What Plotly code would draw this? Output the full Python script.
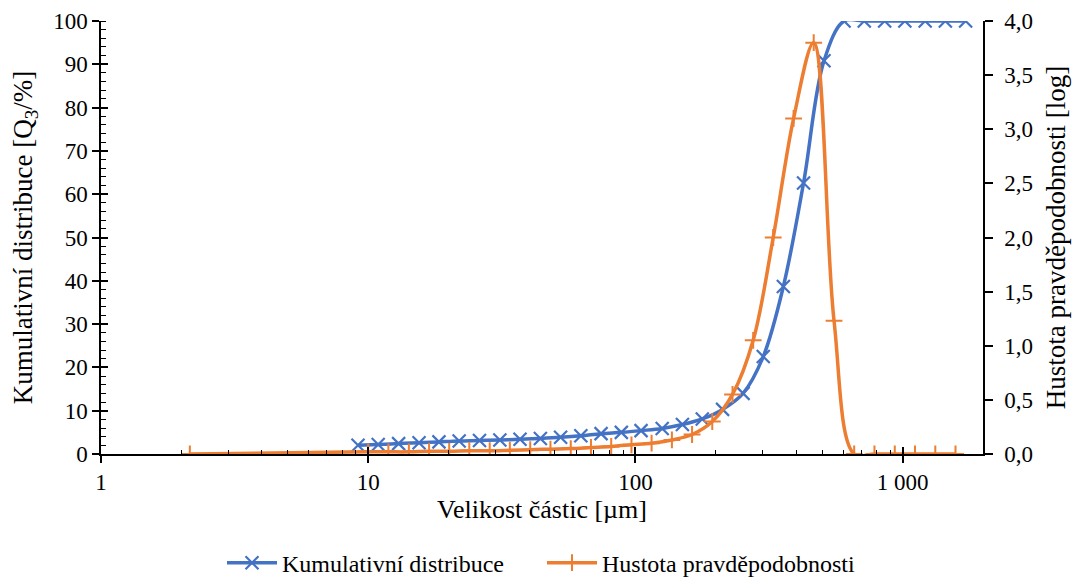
import math
import plotly.graph_objects as go

# ---- data ----
blue_name = "Kumulativní distribuce"
blue_x = [9.16, 10.9, 13.0, 15.5, 18.4, 21.9, 26.1, 31.1, 37.0, 44.1, 52.5, 62.5, 74.4, 88.6,
          105, 126, 150, 178, 212, 253, 301, 358, 426, 508, 604, 719, 857, 1020, 1215, 1446, 1722]
blue_y = [2.0, 2.2, 2.4, 2.6, 2.8, 3.0, 3.1, 3.25, 3.4, 3.6, 3.85, 4.2, 4.7, 5.0, 5.4, 5.9,
          6.8, 8.1, 10.3, 14.0, 22.5, 38.7, 62.6, 90.8, 100, 100, 100, 100, 100, 100, 100]

orange_name = "Hustota pravděpodobnosti"
orange_x = [2.15, 10.0, 11.9, 14.2, 16.9, 20.1, 23.9, 28.5, 33.9, 40.4, 48.1, 57.3, 68.2, 81.2,
            96.7, 115, 137, 163, 194, 231, 276, 328, 391, 465, 554, 659, 785, 935, 1113, 1326, 1578]
orange_y = [0.0, 0.02, 0.02, 0.02, 0.025, 0.025, 0.03, 0.03, 0.035, 0.04, 0.045, 0.05, 0.06, 0.07,
            0.085, 0.10, 0.13, 0.18, 0.30, 0.55, 1.05, 2.0, 3.10, 3.80, 1.23, 0, 0, 0, 0, 0, 0]

x_tickvals = [1, 10, 100, 1000]
x_ticktext = ["1", "10", "100", "1 000"]
y_tickvals = [0, 10, 20, 30, 40, 50, 60, 70, 80, 90, 100]
y2_tickvals = [0, 0.5, 1.0, 1.5, 2.0, 2.5, 3.0, 3.5, 4.0]
y2_ticktext = ["0,0", "0,5", "1,0", "1,5", "2,0", "2,5", "3,0", "3,5", "4,0"]

x_title = "Velikost částic [µm]"
y_title = "Kumulativní distribuce [Q<sub>3</sub>/%]"
y2_title = "Hustota pravděpodobnosti [log]"

BLUE = "#4472C4"
ORANGE = "#ED7D31"
FONT = "Liberation Serif, Times New Roman, DejaVu Serif, serif"
XMAX = 2000

x_range = [0, math.log10(XMAX)]
minor_x = [m * 10 ** d for d in range(0, 4) for m in range(2, 10) if m * 10 ** d <= XMAX]

fig = go.Figure()
fig.add_trace(go.Scatter(
    x=blue_x, y=blue_y, name=blue_name, mode="lines+markers",
    line=dict(color=BLUE, width=3.5, shape="spline", smoothing=1.0),
    marker=dict(symbol="x-thin", size=13, color=BLUE, line=dict(color=BLUE, width=2.2)),
    xaxis="x", yaxis="y",
))
fig.add_trace(go.Scatter(
    x=orange_x, y=orange_y, name=orange_name, mode="lines+markers",
    line=dict(color=ORANGE, width=3.5, shape="spline", smoothing=1.0),
    marker=dict(symbol="cross-thin", size=12, color=ORANGE, line=dict(color=ORANGE, width=2)),
    xaxis="x", yaxis="y2",
))
# invisible helper trace so the overlay axes (inner halves of crossing ticks) get drawn
fig.add_trace(go.Scatter(
    x=blue_x, y=blue_y, mode="markers", marker=dict(opacity=0), showlegend=False,
    hoverinfo="skip", xaxis="x3", yaxis="y3",
))

axis_common = dict(showgrid=False, zeroline=False, linecolor="black", tickcolor="black",
                   tickfont=dict(family=FONT, size=23, color="black"))

# the page body adds an 8px offset, so the figure is 8px smaller and margins shifted
fig.update_layout(
    width=1072, height=571,
    margin=dict(l=93, r=97, t=13, b=125, autoexpand=False),
    paper_bgcolor="white", plot_bgcolor="white",
    font=dict(family=FONT, color="black", size=23),
    xaxis=dict(
        type="log", range=x_range, tickmode="array", tickvals=x_tickvals, ticktext=x_ticktext,
        ticks="outside", ticklen=7, tickwidth=1.5, showline=True, linewidth=1.5,
        minor=dict(ticks="inside", ticklen=4, tickwidth=1.2, tickcolor="black",
                   tickmode="array", tickvals=minor_x, showgrid=False),
        title=dict(text=x_title, font=dict(family=FONT, size=26), standoff=2),
        automargin=False, anchor="y", **axis_common,
    ),
    yaxis=dict(
        range=[0, 100], tickmode="array", tickvals=y_tickvals,
        ticks="outside", ticklen=7, tickwidth=1.5, showline=True, linewidth=1.5,
        minor=dict(ticks="inside", ticklen=5, tickwidth=1.2, tickcolor="black", dtick=2,
                   showgrid=False),
        title=dict(text=y_title, font=dict(family=FONT, size=27), standoff=14),
        automargin=False, anchor="x", **axis_common,
    ),
    yaxis2=dict(
        range=[0, 4], tickmode="array", tickvals=y2_tickvals, ticktext=y2_ticktext,
        overlaying="y", side="right", anchor="x",
        ticks="outside", ticklen=8, tickwidth=1.5, showline=True, linewidth=1.5,
        ticklabelstandoff=7,
        title=dict(text=y2_title, font=dict(family=FONT, size=27), standoff=14),
        automargin=False, **axis_common,
    ),
    xaxis3=dict(
        type="log", range=x_range, tickmode="array", tickvals=x_tickvals,
        overlaying="x", anchor="y3", side="bottom", ticks="inside", ticklen=7, tickwidth=1.5,
        showticklabels=False, showline=False, showgrid=False, zeroline=False, tickcolor="black",
    ),
    yaxis3=dict(
        range=[0, 100], tickmode="array", tickvals=y_tickvals,
        overlaying="y", anchor="x3", side="left", ticks="inside", ticklen=7, tickwidth=1.5,
        showticklabels=False, showline=False, showgrid=False, zeroline=False, tickcolor="black",
    ),
    showlegend=True,
    legend=dict(orientation="h", x=0.5, xanchor="center", y=-0.252, yanchor="middle",
                font=dict(family=FONT, size=24), itemwidth=50, entrywidth=255,
                bgcolor="rgba(0,0,0,0)"),
)

fig.write_html("out.html")
